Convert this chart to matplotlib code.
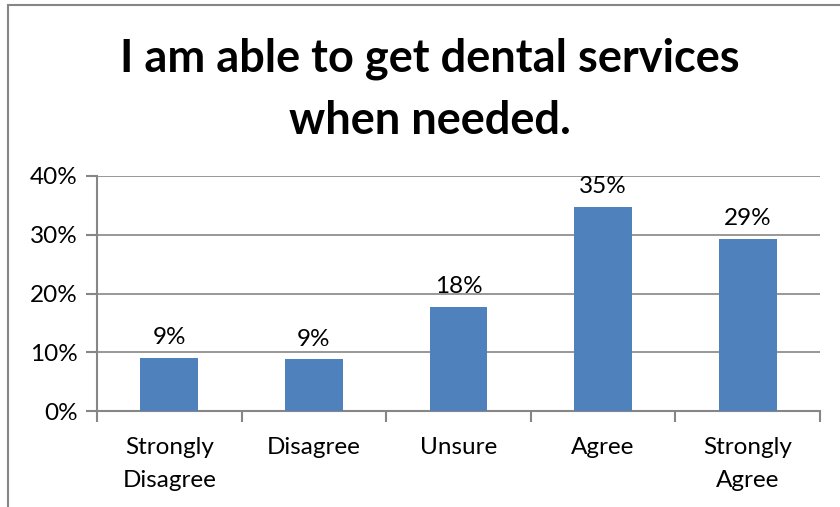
import matplotlib.pyplot as plt
from matplotlib.patches import Rectangle
from matplotlib.ticker import PercentFormatter, FixedLocator

categories = ['Strongly\nDisagree', 'Disagree', 'Unsure', 'Agree', 'Strongly\nAgree']
shares = [0.090, 0.088, 0.177, 0.348, 0.293]

bar_color = '#4F81BD'
line_color = '#868686'

plt.rcParams['font.family'] = ['Lato', 'DejaVu Sans']

W, H = 840, 507
fig = plt.figure(figsize=(W / 100, H / 100), dpi=100)

# chart frame (runs off the right and bottom edges)
fig.patches.append(Rectangle((8 / W, -0.1), 1.2, 1 - 5 / H + 0.1,
                             transform=fig.transFigure, fill=False,
                             edgecolor=line_color, linewidth=1.5))

fig.text(430 / W, 1 - 90 / H, 'I am able to get dental services\nwhen needed.',
         ha='center', va='center', fontsize=32.5, fontweight='bold',
         linespacing=1.6)

left, right, top, bottom = 97, 820, 176, 411
ax = fig.add_axes([left / W, 1 - bottom / H, (right - left) / W, (bottom - top) / H])

x = range(len(categories))
ax.bar(x, shares, width=0.4, color=bar_color, zorder=3)
for xi, v in zip(x, shares):
    ax.annotate('{:.0%}'.format(v), (xi, v), xytext=(0, 7),
                textcoords='offset points', ha='center', va='bottom',
                fontsize=17.5, zorder=4)

ax.set_xlim(-0.5, len(categories) - 0.5)
ax.set_ylim(0, 0.40)
ax.yaxis.set_major_locator(FixedLocator([0, 0.1, 0.2, 0.3, 0.4]))
ax.yaxis.set_major_formatter(PercentFormatter(1.0, decimals=0))
ax.grid(axis='y', color=line_color, linewidth=1.2, zorder=0)

ax.set_xticks(list(x))
ax.set_xticklabels(categories, fontsize=17.5, linespacing=1.7)
ax.xaxis.set_minor_locator(FixedLocator([i - 0.5 for i in range(len(categories) + 1)]))
ax.tick_params(axis='x', which='major', length=0, pad=19)
ax.tick_params(axis='x', which='minor', length=8, width=1.5, color=line_color)
ax.tick_params(axis='y', length=8, width=1.5, color=line_color, labelsize=17.5, pad=6)

for side in ['top', 'right']:
    ax.spines[side].set_visible(False)
for side in ['left', 'bottom']:
    ax.spines[side].set_color(line_color)
    ax.spines[side].set_linewidth(1.5)

fig.savefig('out.png', dpi=100)
